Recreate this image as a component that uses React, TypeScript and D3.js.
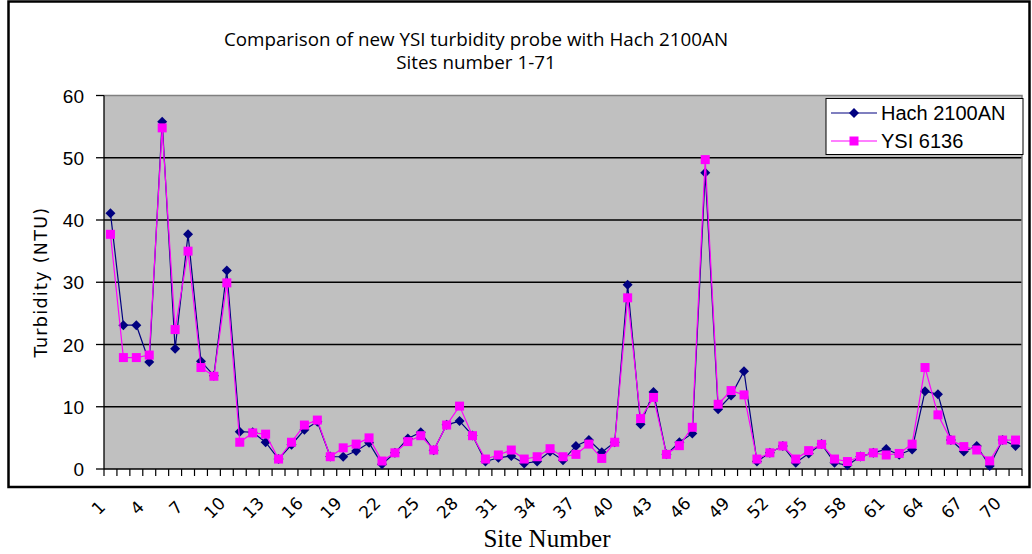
import React from "react";
import * as d3 from "d3";

const sites: number[] = Array.from({ length: 71 }, (_, i) => i + 1);

const hach: number[] = [
  41.1, 23.1, 23.1, 17.2, 55.8, 19.3, 37.7, 17.3, 15.0, 31.9,
  6.0, 5.9, 4.3, 1.6, 3.9, 6.3, 7.6, 2.0, 1.97, 2.9,
  4.2, 0.75, 2.6, 4.9, 5.9, 3.0, 7.1, 7.7, 5.4, 1.2,
  1.8, 2.1, 0.9, 1.2, 2.8, 1.4, 3.7, 4.65, 2.7, 4.3,
  29.6, 7.2, 12.35, 2.35, 4.3, 5.7, 47.6, 9.6, 11.8, 15.7,
  1.2, 2.6, 3.7, 1.0, 2.5, 4.0, 1.0, 0.6, 2.0, 2.6,
  3.2, 2.3, 3.15, 12.5, 12.0, 4.65, 2.8, 3.7, 0.5, 4.65, 3.7,
];

const ysi: number[] = [
  37.7, 17.9, 17.9, 18.3, 54.8, 22.4, 35.0, 16.3, 14.9, 29.9,
  4.3, 5.8, 5.6, 1.6, 4.3, 7.06, 7.86, 1.97, 3.4, 4.0,
  5.0, 1.28, 2.6, 4.4, 5.35, 3.05, 7.06, 10.1, 5.35, 1.6,
  2.25, 3.05, 1.6, 1.97, 3.26, 1.97, 2.35, 4.0, 1.7, 4.3,
  27.5, 8.1, 11.5, 2.35, 3.75, 6.7, 49.7, 10.4, 12.6, 11.9,
  1.6, 2.6, 3.7, 1.6, 2.95, 3.96, 1.6, 1.2, 2.0, 2.6,
  2.25, 2.5, 4.0, 16.3, 8.7, 4.65, 3.6, 3.05, 1.3, 4.65, 4.65,
];

const yTicks: number[] = [0, 10, 20, 30, 40, 50, 60];
const xTickLabels: number[] = sites.filter((s) => (s - 1) % 3 === 0);

const titleLines: string[] = [
  "Comparison of new YSI turbidity probe with Hach 2100AN",
  "Sites number 1-71",
];
const seriesNames: string[] = ["Hach 2100AN", "YSI 6136"];

const W = 1032;
const H = 554;
const PL = 104;
const PR = 1022;
const PT = 95.5;
const PB = 469;

const DIAMOND = "M0,-5L5,0L0,5L-5,0Z";

export default function App() {
  const x = d3.scaleBand<number>().domain(sites).range([PL, PR]).padding(0);
  const y = d3.scaleLinear().domain([0, 60]).range([PB, PT]);
  const cx = (s: number) => (x(s) as number) + x.bandwidth() / 2;

  const line = d3
    .line<number>()
    .x((_, i) => cx(sites[i]))
    .y((d) => y(d));

  const boundaries = [...sites.map((s) => x(s) as number), PR];

  return (
    <svg
      width={W}
      height={H}
      style={{ position: "absolute", left: 0, top: 0, background: "#fff" }}
    >
      <rect x={8.5} y={1.5} width={1021} height={485.5} fill="#fff" stroke="#000" strokeWidth={2.5} />

      {titleLines.map((t, i) => (
        <text
          key={i}
          x={476}
          y={45.5 + i * 23.5}
          textAnchor="middle"
          fontFamily="'Open Sans', sans-serif"
          fontSize={18.8}
          fill="#000"
        >
          {t}
        </text>
      ))}

      {/* plot area */}
      <rect x={PL} y={PT} width={PR - PL} height={PB - PT} fill="#C0C0C0" />
      {yTicks.slice(1, -1).map((t) => (
        <line key={t} x1={PL} x2={PR} y1={y(t)} y2={y(t)} stroke="#000" strokeWidth={1.3} />
      ))}
      <polyline
        points={`${PL},${PT} ${PR},${PT} ${PR},${PB}`}
        fill="none"
        stroke="#808080"
        strokeWidth={1.5}
      />
      <line x1={PL} x2={PL} y1={PT} y2={PB} stroke="#000" strokeWidth={1.3} />
      <line x1={PL} x2={PR} y1={PB} y2={PB} stroke="#000" strokeWidth={1.3} />

      {/* y ticks */}
      {yTicks.map((t) => (
        <g key={t}>
          <line x1={96} x2={PL} y1={y(t)} y2={y(t)} stroke="#000" strokeWidth={1.3} />
          <text
            x={84}
            y={y(t) + 7}
            textAnchor="end"
            fontFamily="'Liberation Sans', Arial, sans-serif"
            fontSize={19}
            fill="#000"
          >
            {t}
          </text>
        </g>
      ))}

      {/* x ticks */}
      {boundaries.map((b, i) => (
        <line key={i} x1={b} x2={b} y1={PB} y2={PB + 7} stroke="#000" strokeWidth={1.2} />
      ))}
      {xTickLabels.map((s) => (
        <text
          key={s}
          transform={`translate(${cx(s) - 8},${512}) rotate(-45)`}
          textAnchor="middle"
          fontFamily="'DejaVu Sans', sans-serif"
          fontSize={17}
          fill="#000"
        >
          {s}
        </text>
      ))}

      {/* axis titles */}
      <text
        transform={`translate(47,282) rotate(-90)`}
        textAnchor="middle"
        fontFamily="'DejaVu Sans', sans-serif"
        fontSize={17.5}
        letterSpacing={1.3}
        fill="#000"
      >
        Turbidity (NTU)
      </text>
      <text
        x={547}
        y={547}
        textAnchor="middle"
        fontFamily="'Liberation Serif', 'Times New Roman', serif"
        fontSize={25}
        fill="#000"
      >
        Site Number
      </text>

      {/* series */}
      <path d={line(hach) as string} fill="none" stroke="#000080" strokeWidth={1.2} />
      {hach.map((v, i) => (
        <path key={i} d={DIAMOND} transform={`translate(${cx(sites[i])},${y(v)})`} fill="#000080" />
      ))}
      <path d={line(ysi) as string} fill="none" stroke="#FF00FF" strokeWidth={1.2} />
      {ysi.map((v, i) => (
        <rect key={i} x={cx(sites[i]) - 4.5} y={y(v) - 4.5} width={9} height={9} fill="#FF00FF" />
      ))}

      {/* legend */}
      <rect x={826} y={98.5} width={197} height={56} fill="#fff" stroke="#000" strokeWidth={1} />
      <line x1={831} x2={877} y1={113} y2={113} stroke="#000080" strokeWidth={1.2} />
      <path d={DIAMOND} transform="translate(854,113)" fill="#000080" />
      <text x={881} y={120} fontFamily="'Liberation Sans', Arial, sans-serif" fontSize={20} fill="#000">
        {seriesNames[0]}
      </text>
      <line x1={831} x2={877} y1={141} y2={141} stroke="#FF00FF" strokeWidth={1.2} />
      <rect x={849.5} y={136.5} width={9} height={9} fill="#FF00FF" />
      <text x={881} y={148} fontFamily="'Liberation Sans', Arial, sans-serif" fontSize={20} fill="#000">
        {seriesNames[1]}
      </text>
    </svg>
  );
}
